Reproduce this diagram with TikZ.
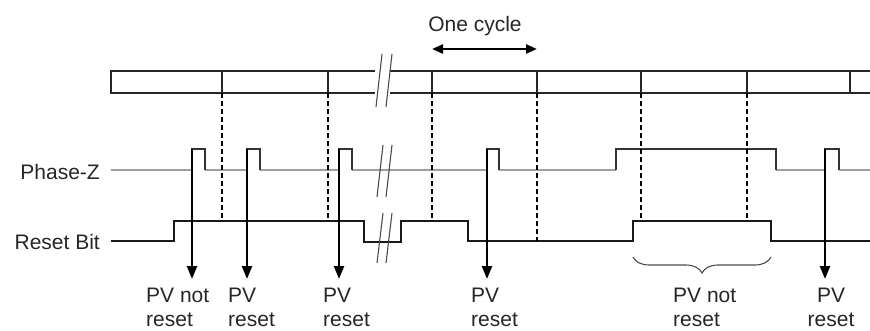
\documentclass[tikz,border=0pt]{standalone}
\usepackage{fontspec}
\setmainfont{Liberation Sans}
\usetikzlibrary{arrows.meta,decorations.pathreplacing}
\begin{document}
\begin{tikzpicture}[x=1pt,y=-1pt,
 lbl/.style={font=\fontsize{21}{24}\selectfont, inner sep=0pt, text=black!85},
 barline/.style={line width=1.6pt, draw=black!85},
 gridline/.style={line width=2.8pt, dash pattern=on 5pt off 3pt},
 zlow/.style={line width=2.8pt, draw=black!38},
 zhigh/.style={line width=1.5pt, draw=black!80},
 rbit/.style={line width=1.7pt, draw=black!90},
 pvarrow/.style={line width=2.4pt, -{Triangle[length=13pt,width=10pt]}},
 brk/.style={line width=1.1pt, draw=black!70},
]
\useasboundingbox (0,0) rectangle (870,331);
% top bar
\draw[barline] (375,71) -- (111,71) -- (111,93) -- (375,93);
\draw[barline] (390,71) -- (870,71);
\draw[barline] (390,93) -- (870,93);
\foreach \x in {222,328,432,537,641,747,850}
  \draw[barline] (\x,71) -- (\x,93);
\draw[brk] (376,107) -- (382,54);
\draw[brk] (386,107) -- (392,54);
% one cycle
\node[lbl, anchor=base] (oc) at (475,32) {One cycle};
\coordinate (ocl) at (432,49);
\coordinate (ocr) at (537,49);
\draw[line width=2.4pt, {Triangle[length=11pt,width=9pt]}-{Triangle[length=11pt,width=9pt]}] (ocl) -- (ocr);
% labels
\node[lbl, anchor=base east] (pz) at (100,180) {Phase-Z};
\node[lbl, anchor=base east] (rb) at (100,250) {Reset Bit};
% Phase-Z low levels
\draw[zlow] (111,170) -- (192,170);
\draw[zlow] (205,170) -- (247,170);
\draw[zlow] (260,170) -- (339,170);
\draw[zlow] (352,170) -- (487,170);
\draw[zlow] (499,170) -- (616,170);
\draw[zlow] (776,170) -- (825,170);
\draw[zlow] (839,170) -- (870,170);
% Phase-Z pulses
\draw[zhigh] (192,170) -- (192,149) -- (205,149) -- (205,170);
\draw[zhigh] (247,170) -- (247,149) -- (260,149) -- (260,170);
\draw[zhigh] (339,170) -- (339,149) -- (352,149) -- (352,170);
\draw[zhigh] (487,170) -- (487,149) -- (499,149) -- (499,170);
\draw[zhigh] (616,170) -- (616,149) -- (776,149) -- (776,170);
\draw[zhigh] (825,170) -- (825,149) -- (839,149) -- (839,170);
% Reset bit
\draw[rbit] (111,241) -- (174,241) -- (174,221) -- (364,221) -- (364,242) -- (401,242) -- (401,221) -- (468,221) -- (468,241) -- (633,241) -- (633,221) -- (771,221) -- (771,241) -- (870,241);
% breaks on signals
\draw[brk] (377,197) -- (383,145);
\draw[brk] (386,197) -- (392,145);
\draw[brk] (377,263) -- (383,213);
\draw[brk] (386,263) -- (392,213);
% dashed guides
\foreach \x in {222,328,432,641,747}
  \draw[gridline] (\x,93) -- (\x,221);
\draw[gridline] (537,93) -- (537,241);
% arrows
\foreach \i/\x in {1/192,2/247,3/339,4/487,5/825}{
  \coordinate (s\i) at (\x,149);
  \coordinate (e\i) at (\x,279);
  \draw[pvarrow] (s\i) -- (e\i);
}
% brace
\draw[decorate, decoration={brace, mirror, amplitude=16pt}, line width=1.1pt, draw=black!70] (633,257) -- (771,257);
% PV labels
\node[lbl, anchor=north west, align=left] (l1) at (146,288) {PV not\\reset};
\node[lbl, anchor=north west, align=left] (l2) at (228,288) {PV\\reset};
\node[lbl, anchor=north west, align=left] (l3) at (323,288) {PV\\reset};
\node[lbl, anchor=north west, align=left] (l4) at (471,288) {PV\\reset};
\node[lbl, anchor=north west, align=left] (l5) at (673,288) {PV not\\reset};
\node[lbl, anchor=north, align=center] (l6) at (831,288) {PV\\reset};
\end{tikzpicture}
\end{document}
